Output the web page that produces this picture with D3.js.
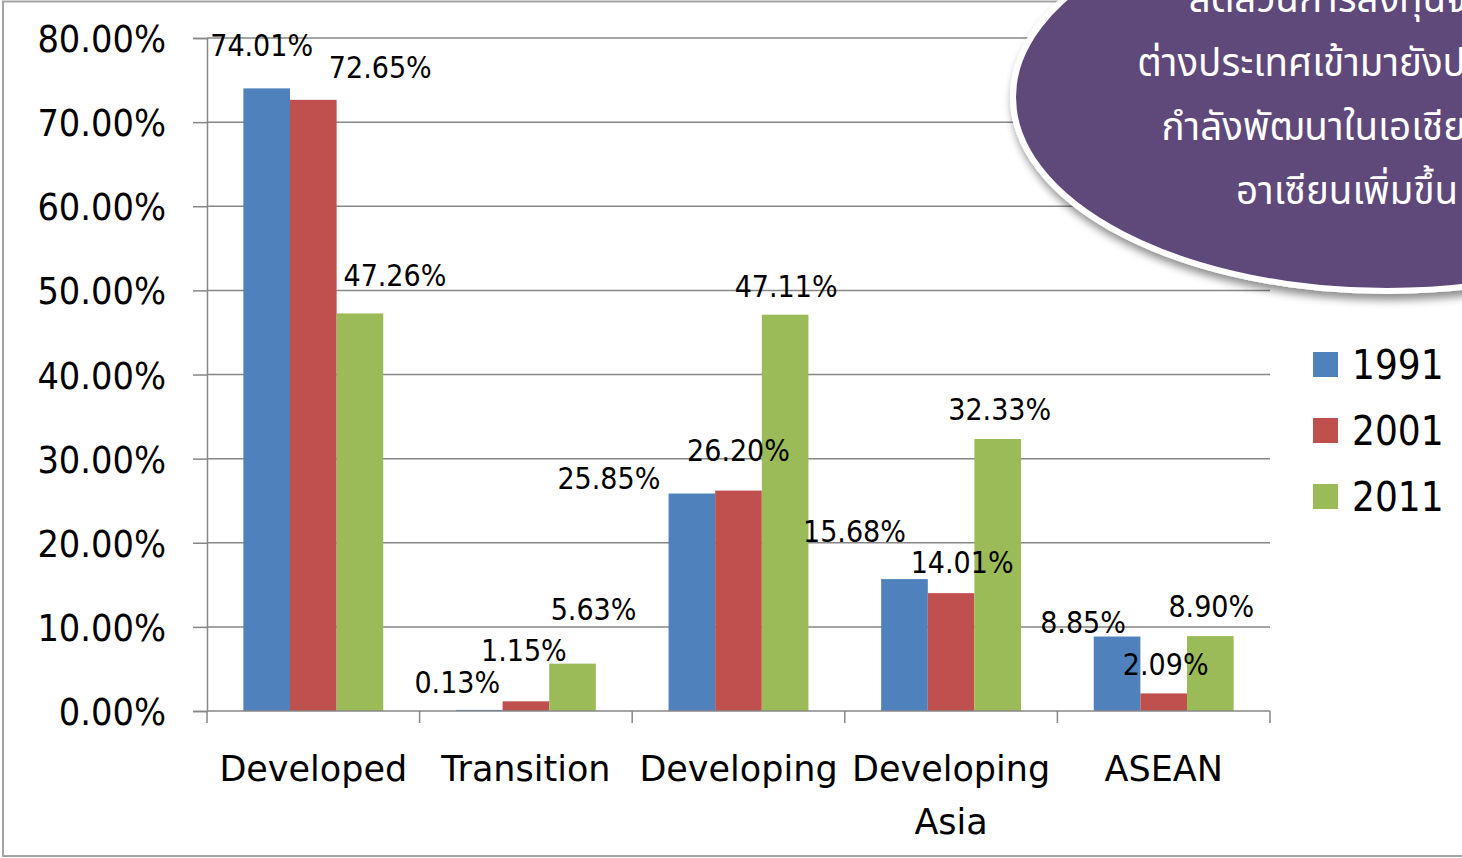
<!DOCTYPE html>
<html>
<head>
<meta charset="utf-8">
<script src="https://cdn.jsdelivr.net/npm/d3@7"></script>
<style>
  html, body { margin: 0; padding: 0; background: #fff; overflow: hidden; }
  svg { display: block; }
</style>
</head>
<body>
<svg id="chart" width="1462" height="858"></svg>
<script>
// data
var categories = ["Developed", "Transition", "Developing", "Developing Asia", "ASEAN"]
var tickLabels = [["Developed"], ["Transition"], ["Developing"], ["Developing", "Asia"], ["ASEAN"]]
var years = ["1991", "2001", "2011"]
var values1991 = [74.01, 0.13, 25.85, 15.68, 8.85]
var values2001 = [72.65, 1.15, 26.20, 14.01, 2.09]
var values2011 = [47.26, 5.63, 47.11, 32.33, 8.90]
var yTicks = [0, 10, 20, 30, 40, 50, 60, 70, 80]
var noteLines = ["สัดส่วนการลงทุนจาก", "ต่างประเทศเข้ามายังประเทศ", "กำลังพัฒนาในเอเชีย และ", "อาเซียนเพิ่มขึ้น"]

// the data labels in the original are dragged around, so nudge them (per series, per category)
var labelDx = [[-5, -22, -83, -50, -34], [67, -2, 0, 11, 2], [35, 21, 1, 2, 1]]
var labelDy = [[-32, -17, -5, -37, -4], [-22, -40, -30, -20, -18], [-27, -44, -18, -19, -19]]

!(function(){
    "use strict"

    var colors = ["#4f81bd", "#c0504d", "#9bbb59"]
    var series = [values1991, values2001, values2011]
    var numFont = "'DejaVu Sans Condensed', 'DejaVu Sans', sans-serif"
    var txtFont = "'DejaVu Sans', Verdana, sans-serif"

    var svg = d3.select("#chart")
    var left = 207, right = 1270, top = 38, bottom = 711

    // chart frame
    svg.append("rect")
        .attr("x", 3).attr("y", 1.5)
        .attr("width", 1480).attr("height", 854.5)
        .attr("fill", "none")
        .attr("stroke", "#a5a5a5")
        .attr("stroke-width", 2)

    var x0 = d3.scaleBand().domain(categories).range([left, right]).paddingInner(0).paddingOuter(0)
    var x1 = d3.scaleBand().domain(years).range([0, x0.bandwidth()]).paddingInner(0).paddingOuter(0.78)
    var y = d3.scaleLinear().domain([0, 80]).range([bottom, top])

    // gridlines
    svg.append("g")
        .selectAll("line")
        .data(yTicks.filter(function(d){ return d > 0 }))
        .enter().append("line")
        .attr("x1", left).attr("x2", right)
        .attr("y1", function(d){ return y(d) }).attr("y2", function(d){ return y(d) })
        .attr("stroke", "#878787")
        .attr("stroke-width", 1.5)

    // y axis
    var yAxis = svg.append("g")
        .attr("transform", "translate(" + left + ",0)")
        .call(d3.axisLeft(y).tickValues(yTicks).tickSize(14).tickPadding(27)
            .tickFormat(function(d){ return d.toFixed(2) + "%" }))
    yAxis.select(".domain").attr("stroke", "#878787").attr("stroke-width", 1.5)
    yAxis.selectAll(".tick line").attr("stroke", "#878787").attr("stroke-width", 1.5)
    yAxis.selectAll(".tick text")
        .attr("font-family", numFont)
        .attr("font-size", 37.5)
        .attr("fill", "#000")
        .attr("dy", "0.36em")

    // bars
    var cells = function(d, i){ return d.map(function(v, j){ return {s: i, c: j, v: v} }) }
    var groups = svg.append("g")
        .selectAll("g")
        .data(series)
        .enter().append("g")
        .attr("fill", function(d, i){ return colors[i] })

    groups.selectAll("rect")
        .data(cells)
        .enter().append("rect")
        .attr("x", function(d){ return x0(categories[d.c]) + x1(years[d.s]) })
        .attr("width", x1.bandwidth())
        .attr("y", function(d){ return y(d.v) })
        .attr("height", function(d){ return y(0) - y(d.v) })

    // x axis
    var xAxis = svg.append("g").attr("transform", "translate(0," + bottom + ")")
    xAxis.append("line")
        .attr("x1", left).attr("x2", right)
        .attr("stroke", "#878787").attr("stroke-width", 1.5)
    xAxis.selectAll(".xtick")
        .data(categories.concat([null]))
        .enter().append("line")
        .attr("class", "xtick")
        .attr("x1", function(d){ return d ? x0(d) : right })
        .attr("x2", function(d){ return d ? x0(d) : right })
        .attr("y1", 0).attr("y2", 12)
        .attr("stroke", "#878787").attr("stroke-width", 1.5)

    var catText = xAxis.selectAll(".cat")
        .data(categories)
        .enter().append("text")
        .attr("class", "cat")
        .attr("text-anchor", "middle")
        .attr("font-family", txtFont)
        .attr("font-size", 35)
        .attr("fill", "#000")
    catText.selectAll("tspan")
        .data(function(d, i){ return tickLabels[i].map(function(t){ return {t: t, x: x0(d) + x0.bandwidth() / 2} }) })
        .enter().append("tspan")
        .attr("x", function(d){ return d.x })
        .attr("y", function(d, k){ return 70 + k * 53 })
        .text(function(d){ return d.t })

    // data labels, on top of all bars
    svg.append("g")
        .selectAll("g")
        .data(series)
        .enter().append("g")
        .selectAll("text")
        .data(cells)
        .enter().append("text")
        .attr("x", function(d){ return x0(categories[d.c]) + x1(years[d.s]) + x1.bandwidth() / 2 + labelDx[d.s][d.c] })
        .attr("y", function(d){ return y(d.v) + labelDy[d.s][d.c] })
        .attr("text-anchor", "middle")
        .attr("font-family", numFont)
        .attr("font-size", 30)
        .attr("fill", "#000")
        .text(function(d){ return d.v.toFixed(2) + "%" })

    // legend
    var legend = svg.append("g").attr("transform", "translate(1313,352)")
    var li = legend.selectAll("g")
        .data(years)
        .enter().append("g")
        .attr("transform", function(d, i){ return "translate(0," + i * 66 + ")" })
    li.append("rect")
        .attr("width", 25).attr("height", 25)
        .attr("fill", function(d, i){ return colors[i] })
    li.append("text")
        .attr("x", 39).attr("y", 27)
        .attr("font-family", numFont)
        .attr("font-size", 40)
        .attr("fill", "#000")
        .text(function(d){ return d })

    // purple callout bubble on the top right
    var defs = svg.append("defs")
    var f = defs.append("filter").attr("id", "shadow")
        .attr("x", "-20%").attr("y", "-20%").attr("width", "140%").attr("height", "140%")
    f.append("feDropShadow")
        .attr("dx", 2).attr("dy", 6)
        .attr("stdDeviation", 4)
        .attr("flood-color", "#000")
        .attr("flood-opacity", 0.45)

    var note = svg.append("g")
    note.append("ellipse")
        .attr("cx", 1387).attr("cy", 97)
        .attr("rx", 374).attr("ry", 194)
        .attr("fill", "#5f497a")
        .attr("stroke", "#fff")
        .attr("stroke-width", 6)
        .attr("filter", "url(#shadow)")
    note.selectAll("text")
        .data(noteLines)
        .enter().append("text")
        .attr("x", 1347)
        .attr("y", function(d, i){ return 12 + i * 64 })
        .attr("text-anchor", "middle")
        .attr("font-family", "'Noto Sans Thai', Tahoma, Loma, Garuda, 'Noto Sans', sans-serif")
        .attr("font-size", 38.5)
        .attr("fill", "#fff")
        .text(function(d){ return d })
}());
</script>
</body>
</html>
